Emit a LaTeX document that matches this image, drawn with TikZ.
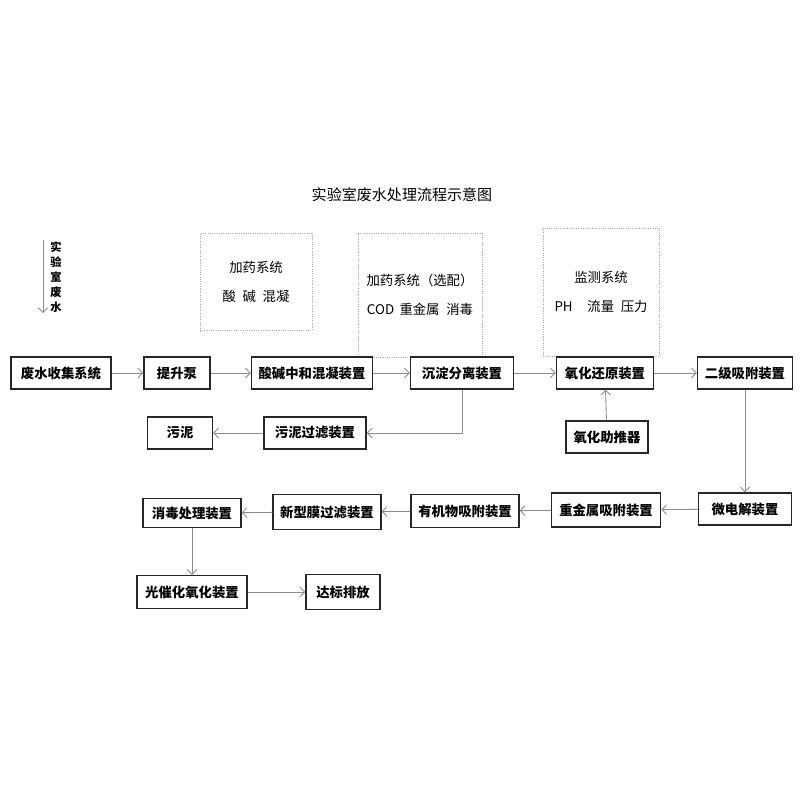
\documentclass[tikz,border=0pt]{standalone}
\usepackage{fontspec}
\setmainfont{Noto Sans CJK SC}
\usetikzlibrary{arrows.meta}

\begin{document}
\begin{tikzpicture}[x=0.025cm,y=-0.025cm,
    box/.style={draw=black!85,line width=0.9pt,minimum height=0.8cm,inner sep=0pt,font=\fontsize{9.5}{11}\selectfont\bfseries},
    panel/.style={draw=gray!70,densely dotted,line width=0.6pt,align=center,inner sep=0pt,font=\fontsize{9.5}{12}\selectfont},
    flow/.style={draw=gray!90,line width=0.6pt,-{Straight Barb[length=0.12cm,width=0.24cm]}}]
    \useasboundingbox (0,0) rectangle (800,800);

    \node[font=\fontsize{10.7}{12}\selectfont] (title) at (402,195) {实验室废水处理流程示意图};

    \coordinate (src0) at (43,240);
    \coordinate (src1) at (43,313);
    \node[align=center,inner sep=0pt,font=\fontsize{8}{10.6}\selectfont\bfseries] (src) at (56,277) {实\\验\\室\\废\\水};
    \draw[flow] (src0) -- (src1);

    \node[panel,minimum width=2.8cm,minimum height=2.43cm] (dose1) at (256,282) {加药系统\\[0.3cm]酸\hspace{0.5em}碱\hspace{0.5em}混凝};
    \node[panel,minimum width=3.1cm,minimum height=3.1cm] (dose2) at (420,295) {加药系统（选配）\\[0.3cm]COD\hspace{0.4em}重金属\hspace{0.5em}消毒};
    \node[panel,minimum width=2.9cm,minimum height=3.2cm] (monitor) at (601,292) {监测系统\\[0.3cm]PH\hspace{1.1em}流量\hspace{0.5em}压力};

    \node[box,minimum width=2.5cm] (collect) at (61,373) {废水收集系统};
    \node[box,minimum width=1.65cm] (pump) at (177,373) {提升泵};
    \node[box,minimum width=3.03cm] (neutral) at (312,373) {酸碱中和混凝装置};
    \node[box,minimum width=2.58cm] (settle) at (462,373) {沉淀分离装置};
    \node[box,minimum width=2.43cm] (redox) at (605,373) {氧化还原装置};
    \node[box,minimum width=2.38cm] (adsorb) at (745,373) {二级吸附装置};

    \node[box,minimum width=1.63cm] (sludge) at (180,433) {污泥};
    \node[box,minimum width=2.55cm] (press) at (315,433) {污泥过滤装置};
    \node[box,minimum width=2.05cm] (booster) at (607,437) {氧化助推器};

    \node[box,minimum width=2.33cm] (micro) at (745,509) {微电解装置};
    \node[box,minimum width=2.73cm,minimum height=0.85cm] (metal) at (606,510) {重金属吸附装置};
    \node[box,minimum width=2.7cm,minimum height=0.83cm] (organic) at (465,511) {有机物吸附装置};
    \node[box,minimum width=2.7cm,minimum height=0.87cm] (membrane) at (327,512) {新型膜过滤装置};
    \node[box,minimum width=2.45cm,minimum height=0.73cm] (disinfect) at (192,513) {消毒处理装置};

    \node[box,minimum width=2.75cm,minimum height=0.83cm] (photo) at (192,592) {光催化氧化装置};
    \node[box,minimum width=1.85cm,minimum height=0.87cm] (outlet) at (343,592) {达标排放};

    \draw[flow] (collect) -- (pump);
    \draw[flow] (pump) -- (neutral);
    \draw[flow] (neutral) -- (settle);
    \draw[flow] (settle) -- (redox);
    \draw[flow] (redox) -- (adsorb);
    \draw[flow] (settle.south) |- (press.east);
    \draw[flow] (press) -- (sludge);
    \draw[flow] (booster) -- (redox);
    \draw[flow] (adsorb) -- (micro);
    \draw[flow] (micro) -- (metal);
    \draw[flow] (metal) -- (organic);
    \draw[flow] (organic) -- (membrane);
    \draw[flow] (membrane) -- (disinfect);
    \draw[flow] (disinfect) -- (photo);
    \draw[flow] (photo) -- (outlet);
\end{tikzpicture}
\end{document}
